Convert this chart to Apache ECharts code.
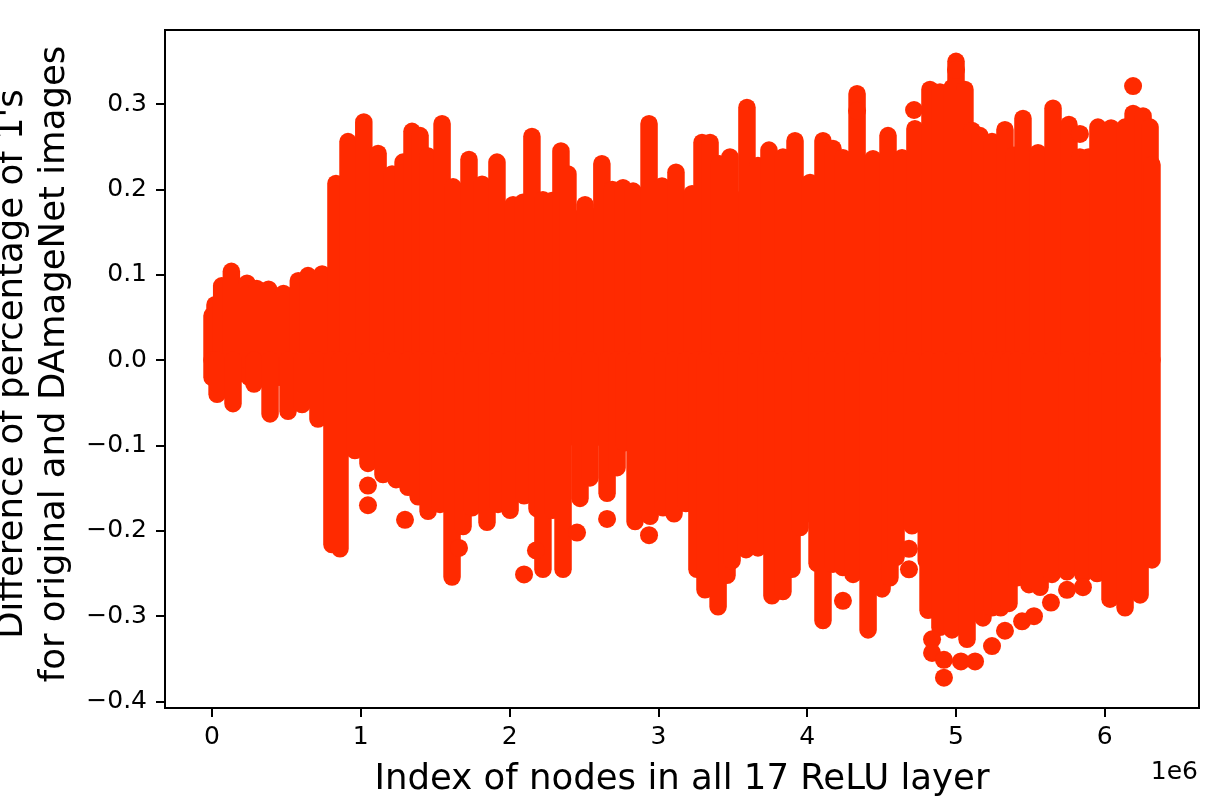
<!DOCTYPE html>
<html><head><meta charset="utf-8">
<style>html,body{margin:0;background:#fff}#c{width:1224px;height:800px}</style>
<script src="https://cdn.jsdelivr.net/npm/echarts@6/dist/echarts.min.js"></script>
</head><body><div id="c"></div>
<script>
// x values are in units of 1e6 (as on the axis)
const upperX=[0,0.02,0.065,0.13,0.235,0.30,0.38,0.48,0.58,0.645,0.74,0.833,0.914,1.02,1.116,1.21,1.284,1.344,1.398,1.452,1.546,1.62,1.727,1.815,1.915,2.023,2.09,2.15,2.224,2.285,2.345,2.392,2.507,2.62,2.69,2.762,2.83,2.937,3.024,3.118,3.226,3.293,3.347,3.41,3.481,3.595,3.669,3.743,3.837,3.918,4.019,4.106,4.173,4.24,4.335,4.442,4.543,4.637,4.724,4.825,4.892,4.973,5.0,5.06,5.108,5.161,5.242,5.329,5.39,5.45,5.551,5.652,5.759,5.833,5.89,5.954,6.042,6.136,6.19,6.257,6.304,6.317];
const upperY=[0.052,0.065,0.087,0.104,0.090,0.084,0.083,0.078,0.093,0.099,0.101,0.207,0.256,0.279,0.242,0.218,0.232,0.268,0.263,0.239,0.277,0.203,0.235,0.206,0.232,0.182,0.185,0.262,0.188,0.187,0.245,0.218,0.182,0.230,0.200,0.202,0.198,0.277,0.204,0.220,0.195,0.255,0.255,0.230,0.238,0.296,0.228,0.246,0.238,0.257,0.208,0.257,0.248,0.237,0.312,0.236,0.263,0.237,0.271,0.317,0.314,0.319,0.350,0.317,0.269,0.263,0.256,0.270,0.240,0.283,0.243,0.295,0.276,0.238,0.238,0.273,0.272,0.273,0.289,0.286,0.273,0.229];
const lowerX=[0,0.034,0.141,0.282,0.39,0.511,0.605,0.712,0.806,0.86,0.96,1.048,1.149,1.237,1.317,1.385,1.452,1.532,1.613,1.687,1.747,1.848,1.922,2.003,2.097,2.184,2.224,2.29,2.359,2.473,2.54,2.655,2.722,2.769,2.843,2.944,3.031,3.105,3.185,3.259,3.313,3.401,3.461,3.495,3.589,3.669,3.723,3.763,3.837,3.898,3.952,4.066,4.106,4.173,4.24,4.308,4.409,4.503,4.556,4.597,4.704,4.812,4.892,4.973,5.074,5.181,5.242,5.3,5.356,5.41,5.49,5.565,5.645,5.746,5.853,5.948,6.035,6.136,6.237,6.317];
const lowerY=[-0.020,-0.040,-0.051,-0.028,-0.063,-0.060,-0.052,-0.069,-0.216,-0.221,-0.106,-0.121,-0.134,-0.140,-0.149,-0.160,-0.177,-0.169,-0.254,-0.195,-0.173,-0.190,-0.169,-0.176,-0.159,-0.174,-0.245,-0.176,-0.245,-0.162,-0.138,-0.156,-0.126,-0.097,-0.189,-0.183,-0.173,-0.180,-0.168,-0.245,-0.269,-0.289,-0.252,-0.235,-0.222,-0.220,-0.210,-0.276,-0.271,-0.245,-0.196,-0.238,-0.305,-0.239,-0.243,-0.251,-0.316,-0.268,-0.255,-0.231,-0.194,-0.293,-0.313,-0.316,-0.327,-0.302,-0.290,-0.290,-0.285,-0.255,-0.263,-0.266,-0.251,-0.248,-0.251,-0.250,-0.280,-0.290,-0.275,-0.234];
const looseX=[4.335,4.718,5.0,6.19,5.833,1.048,1.048,1.297,1.66,2.097,2.177,2.453,2.655,2.937,4.24,4.684,4.684,4.839,4.839,4.919,4.919,5.033,5.128,5.242,5.329,5.444,5.524,5.638,5.746,5.853];
const looseY=[0.292,0.293,0.340,0.321,0.265,-0.147,-0.170,-0.187,-0.220,-0.251,-0.223,-0.202,-0.186,-0.205,-0.282,-0.245,-0.221,-0.327,-0.343,-0.372,-0.351,-0.353,-0.353,-0.335,-0.317,-0.306,-0.300,-0.284,-0.269,-0.266];
// solid core of the cloud, read as the inner bound of its edges
const coreX=[0.05,0.15,0.25,0.35,0.45,0.55,0.65,0.75,0.9,1.0,1.1,1.2,1.3,1.4,1.5,1.6,1.7,1.8,1.9,2.0,2.1,2.2,2.3,2.4,2.5,2.6,2.7,2.8,2.9,3.0,3.1,3.2,3.3,3.4,3.5,3.6,3.7,3.8,3.9,4.0,4.1,4.2,4.3,4.4,4.5,4.6,4.7,4.8,4.9,5.0,5.1,5.2,5.3,5.4,5.5,5.6,5.7,5.8,5.9,6.0,6.1,6.2,6.3];
const coreHigh=[0.05,0.07,0.07,0.07,0.07,0.07,0.07,0.07,0.17,0.17,0.17,0.17,0.17,0.17,0.17,0.17,0.17,0.17,0.17,0.17,0.17,0.17,0.17,0.17,0.17,0.17,0.17,0.17,0.17,0.17,0.17,0.17,0.19,0.19,0.19,0.19,0.19,0.19,0.19,0.19,0.19,0.19,0.19,0.19,0.19,0.19,0.19,0.22,0.22,0.22,0.22,0.22,0.22,0.22,0.22,0.22,0.22,0.22,0.22,0.22,0.22,0.22,0.22];
const coreLow=[-0.02,-0.02,-0.02,-0.02,-0.02,-0.02,-0.02,-0.02,-0.09,-0.09,-0.09,-0.09,-0.09,-0.09,-0.09,-0.09,-0.09,-0.09,-0.09,-0.09,-0.09,-0.09,-0.09,-0.09,-0.09,-0.09,-0.09,-0.09,-0.09,-0.09,-0.09,-0.09,-0.18,-0.18,-0.18,-0.18,-0.18,-0.18,-0.18,-0.18,-0.18,-0.18,-0.18,-0.18,-0.18,-0.18,-0.18,-0.235,-0.235,-0.235,-0.235,-0.235,-0.235,-0.235,-0.235,-0.235,-0.235,-0.235,-0.235,-0.235,-0.235,-0.235,-0.22];
const xTicks=[0,1,2,3,4,5,6];
const yTicks=[-0.4,-0.3,-0.2,-0.1,0,0.1,0.2,0.3];
const xTitle="Index of nodes in all 17 ReLU layer";
const yTitle="Difference of percentage of 1's\nfor original and DAmageNet images";
const RED='#ff2a00', FONT='"DejaVu Sans"';

const zip=(a,b)=>a.map((v,i)=>[v,b[i]]);
function stroke(a,b){
  return {type:'line',shape:{x1:a[0],y1:a[1],x2:b[0],y2:b[1]},
    style:{stroke:RED,lineWidth:17.5,lineCap:'round',fill:null}};
}
function stem(params,api){
  return stroke(api.coord([api.value(0),api.value(1)]),api.coord([api.value(0),0]));
}
function core(params,api){
  return stroke(api.coord([api.value(0),api.value(1)]),api.coord([api.value(0),api.value(2)]));
}
const chart=echarts.init(document.getElementById('c'),null,{renderer:'canvas'});
chart.setOption({
  animation:false,
  backgroundColor:'#fff',
  grid:{left:165,top:30,width:1034,height:678,containLabel:false,outerBoundsMode:'none',show:true,borderColor:'#000',borderWidth:2,backgroundColor:'#fff'},
  xAxis:{type:'value',min:-0.316,max:6.633,splitLine:{show:false},
    axisLine:{show:false,onZero:false},
    axisTick:{show:true,length:9,lineStyle:{color:'#000',width:2},customValues:xTicks},
    axisLabel:{color:'#000',fontFamily:FONT,fontSize:25,margin:17,customValues:xTicks,formatter:v=>String(v)},
    name:xTitle,nameLocation:'middle',nameGap:54,
    nameTextStyle:{color:'#000',fontFamily:FONT,fontSize:35.5}},
  yAxis:{type:'value',min:-0.4075,max:0.3867,splitLine:{show:false},
    axisLine:{show:false,onZero:false},
    axisTick:{show:true,length:9,lineStyle:{color:'#000',width:2},customValues:yTicks},
    axisLabel:{color:'#000',fontFamily:FONT,fontSize:25,margin:18,customValues:yTicks,
      formatter:v=>{const s=Math.abs(v).toFixed(1);return v<0?'\u2212'+s:s;}},
    name:yTitle,nameLocation:'middle',nameRotate:90,nameGap:81,
    nameTextStyle:{color:'#000',fontFamily:FONT,fontSize:35.5,lineHeight:42,padding:[0,0,0,10]}},
  graphic:[{type:'text',right:26,top:760,style:{text:'1e6',fill:'#000',font:'25px "DejaVu Sans"'}}],
  series:[
    {type:'custom',renderItem:core,data:coreX.map((x,i)=>[x,coreHigh[i],coreLow[i]]),encode:{x:0,y:[1,2]}},
    {type:'custom',renderItem:stem,data:zip(upperX,upperY),encode:{x:0,y:1}},
    {type:'custom',renderItem:stem,data:zip(lowerX,lowerY),encode:{x:0,y:1}},
    {type:'scatter',symbolSize:18,itemStyle:{color:RED,opacity:1},data:zip(looseX,looseY)}
  ]
});
</script></body></html>
